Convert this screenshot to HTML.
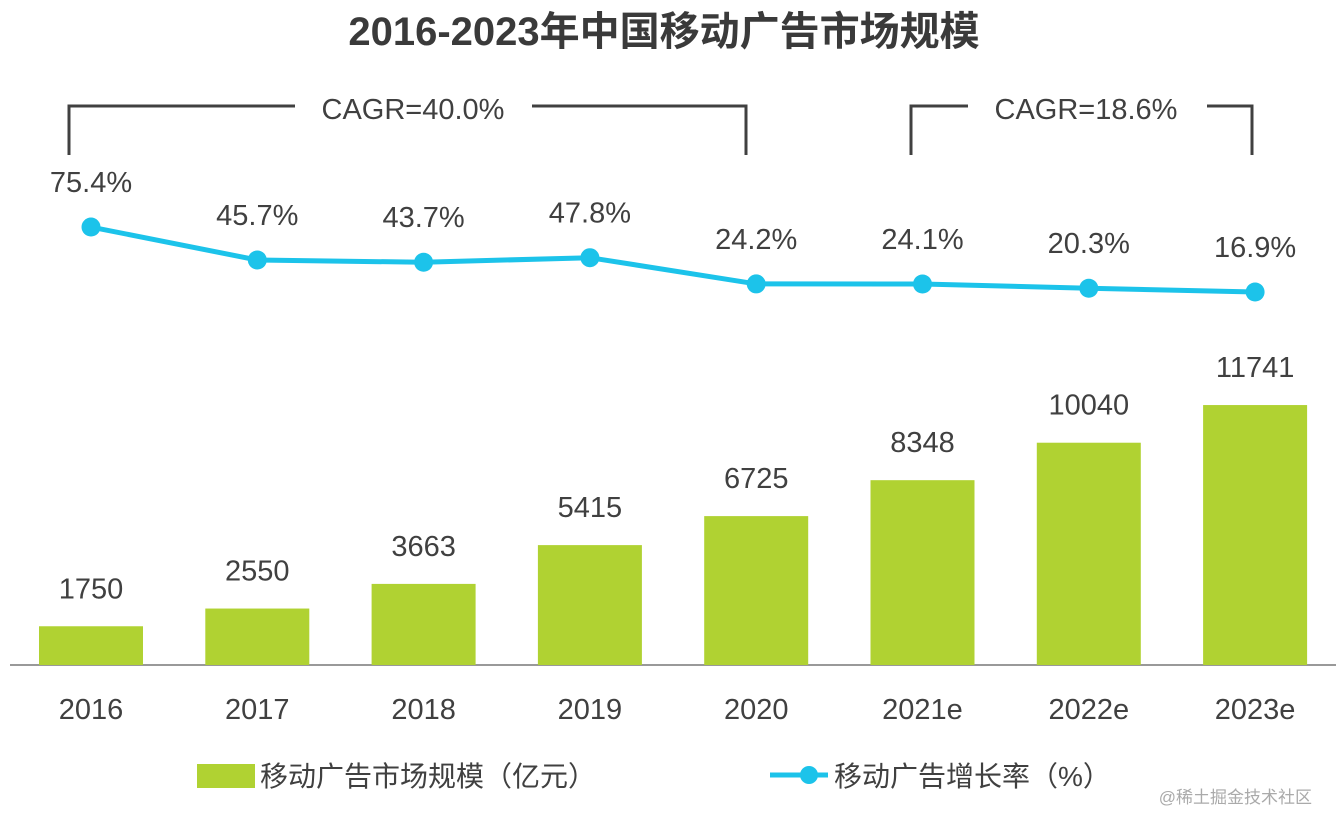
<!DOCTYPE html>
<html><head><meta charset="utf-8">
<style>
html,body{margin:0;padding:0;background:#fff;}
body{width:1336px;height:830px;overflow:hidden;font-family:"Liberation Sans","Noto Sans CJK SC",sans-serif;}
</style></head>
<body>
<svg id="chart" width="1336" height="830" viewBox="0 0 1336 830" xmlns="http://www.w3.org/2000/svg" font-family="Liberation Sans, Noto Sans CJK SC, sans-serif">
<text x="664" y="45" text-anchor="middle" font-size="40" font-weight="bold" fill="#3a3a3a">2016-2023年中国移动广告市场规模</text>
<g stroke="#404040" stroke-width="3" fill="none">
<polyline points="69,155 69,106 295,106"/>
<polyline points="532,106 746,106 746,155"/>
</g>
<text x="413" y="119" text-anchor="middle" font-size="29" fill="#404040">CAGR=40.0%</text>
<g stroke="#404040" stroke-width="3" fill="none">
<polyline points="911,155 911,106 968,106"/>
<polyline points="1207,106 1252,106 1252,155"/>
</g>
<text x="1086" y="119" text-anchor="middle" font-size="29" fill="#404040">CAGR=18.6%</text>
<line x1="10" y1="665" x2="1336" y2="665" stroke="#999" stroke-width="2"/>
<g id="bars"></g><g id="line"></g><g id="labels"></g>
<g>
<rect x="197" y="764" width="58" height="24" fill="#b0d232"/>
<text x="260" y="786" font-size="28" fill="#404040">移动广告市场规模（亿元）</text>
<line x1="770" y1="775" x2="828" y2="775" stroke="#1cc3ea" stroke-width="5"/>
<circle cx="809" cy="775" r="9" fill="#1cc3ea"/>
<text x="834" y="786" font-size="28" fill="#404040">移动广告增长率（%）</text>
</g>
<text x="1312" y="803" text-anchor="end" font-size="17" fill="#aaa">@稀土掘金技术社区</text>
</svg>
<script>
const categories=["2016","2017","2018","2019","2020","2021e","2022e","2023e"];
const marketSize=[1750,2550,3663,5415,6725,8348,10040,11741];
const growthRate=[75.4,45.7,43.7,47.8,24.2,24.1,20.3,16.9];
const NS="http://www.w3.org/2000/svg";
const xC=i=>91+i*166.3;
const yBar=v=>665-v*0.02214;
const yLine=v=>310.8-v*1.111;
function mk(tag,attrs,parent){const e=document.createElementNS(NS,tag);for(const k in attrs)e.setAttribute(k,attrs[k]);parent.appendChild(e);return e;}
const gb=document.getElementById('bars'),gl=document.getElementById('line'),gt=document.getElementById('labels');
marketSize.forEach((v,i)=>{
  const r=mk('rect',{x:xC(i)-52,y:yBar(v),width:104,height:665-yBar(v),fill:'#b0d232'},gb);
  
  
  const t=mk('text',{x:xC(i),y:yBar(v)-28,'text-anchor':'middle','font-size':29,fill:'#404040'},gt);
  t.textContent=v;
  
  
  const c=mk('text',{x:xC(i),y:719,'text-anchor':'middle','font-size':29,fill:'#404040'},gt);
  c.textContent=categories[i];
  
  
});
const pl=mk('polyline',{points:growthRate.map((v,i)=>xC(i)+','+yLine(v)).join(' '),fill:'none',stroke:'#1cc3ea','stroke-width':5},gl);


growthRate.forEach((v,i)=>{
  const c=mk('circle',{cx:xC(i),cy:yLine(v),r:9.5,fill:'#1cc3ea'},gl);
  
  
  const t=mk('text',{x:xC(i),y:yLine(v)-35,'text-anchor':'middle','font-size':29,fill:'#404040'},gt);
  t.textContent=v.toFixed(1)+'%';
  
  
});
</script>
</body></html>
